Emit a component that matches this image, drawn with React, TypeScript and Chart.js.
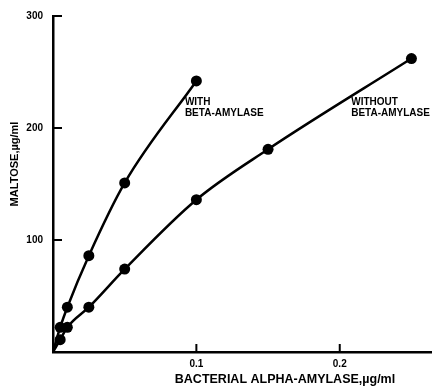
import React, { useEffect, useRef } from "react";
import { Chart, registerables } from "chart.js";

Chart.register(...registerables);

const withX = [0, 0.005, 0.01, 0.025, 0.05, 0.1];
const withY = [0, 22, 40, 86, 151, 242];
const withoutX = [0, 0.005, 0.01, 0.025, 0.05, 0.1, 0.15, 0.25];
const withoutY = [0, 11, 22, 40, 74, 136, 181, 262];
const xTicks = [0.1, 0.2];
const yTicks = [100, 200, 300];
const xTitle = "BACTERIAL ALPHA-AMYLASE,\u00b5g/ml";
const yTitle = "MALTOSE,\u00b5g/ml";
const labelWith = ["WITH", "BETA-AMYLASE"];
const labelWithout = ["WITHOUT", "BETA-AMYLASE"];

const FONT = "'Liberation Sans', Arial, sans-serif";

const toPts = (xs: number[], ys: number[]) => xs.map((x, i) => ({ x, y: ys[i] }));
const radii = (xs: number[]) => xs.map((x) => (x === 0 ? 0 : 5.5));

export default function App() {
  const ref = useRef<HTMLCanvasElement | null>(null);
  useEffect(() => {
    document.body.style.margin = "0";
    const decor = {
      id: "decor",
      afterDraw(chart: any) {
        const ctx = chart.ctx;
        const xs = chart.scales.x;
        const ys = chart.scales.y;
        ctx.save();
        ctx.strokeStyle = "#000";
        ctx.lineWidth = 2;
        // inward ticks
        yTicks.forEach((v) => {
          const py = ys.getPixelForValue(v);
          ctx.beginPath();
          ctx.moveTo(xs.left, py);
          ctx.lineTo(xs.left + 9, py);
          ctx.stroke();
        });
        xTicks.forEach((v) => {
          const px = xs.getPixelForValue(v);
          ctx.beginPath();
          ctx.moveTo(px, ys.bottom);
          ctx.lineTo(px, ys.bottom - 8);
          ctx.stroke();
        });
        ctx.fillStyle = "#000";
        // axis titles
        ctx.textAlign = "center";
        ctx.textBaseline = "middle";
        ctx.font = `bold 12.5px ${FONT}`;
        ctx.fillText(xTitle, 285, 380);
        ctx.font = `bold 11px ${FONT}`;
        ctx.save();
        ctx.translate(15, 164);
        ctx.rotate(-Math.PI / 2);
        ctx.fillText(yTitle, 0, 0);
        ctx.restore();
        // annotations
        ctx.font = `bold 10px ${FONT}`;
        ctx.textAlign = "left";
        ctx.textBaseline = "middle";
        const ay = ys.getPixelForValue(223);
        const ax = xs.getPixelForValue(0.092);
        labelWith.forEach((t, i) => ctx.fillText(t, ax, ay + i * 11));
        const bx = xs.getPixelForValue(0.208);
        labelWithout.forEach((t, i) => ctx.fillText(t, bx, ay + i * 11));
        ctx.restore();
      },
    };
    const ds = (xs: number[], ysv: number[]) => ({
      data: toPts(xs, ysv),
      borderColor: "#000",
      backgroundColor: "#000",
      borderWidth: 2.5,
      pointRadius: radii(xs),
      pointBorderWidth: 0,
      cubicInterpolationMode: "monotone" as const,
      fill: false,
      showLine: true,
    });
    const chart = new Chart(ref.current!, {
      type: "scatter",
      data: {
        datasets: [ds(withX, withY), ds(withoutX, withoutY)],
      },
      options: {
        animation: false,
        responsive: false,
        layout: { padding: { top: 15, right: 4, left: 0, bottom: 0 } },
        plugins: { legend: { display: false }, tooltip: { enabled: false } },
        scales: {
          x: {
            type: "linear",
            min: 0,
            max: 0.264,
            afterBuildTicks: (s: any) => {
              s.ticks = xTicks.map((v) => ({ value: v }));
            },
            afterFit: (s: any) => {
              s.height = 36;
            },
            grid: { display: false, drawTicks: false },
            border: { color: "#000", width: 2.5 },
            ticks: {
              color: "#000",
              font: { family: FONT, weight: "bold", size: 10 },
              padding: 6,
              maxRotation: 0,
              callback: (v: any) => String(v),
            },
          },
          y: {
            type: "linear",
            min: 0,
            max: 300,
            afterBuildTicks: (s: any) => {
              s.ticks = yTicks.map((v) => ({ value: v }));
            },
            afterFit: (s: any) => {
              s.width = 53;
            },
            grid: { display: false, drawTicks: false },
            border: { color: "#000", width: 2.5 },
            ticks: {
              color: "#000",
              font: { family: FONT, weight: "bold", size: 10 },
              padding: 10,
            },
          },
        },
      },
      plugins: [decor],
    } as any);
    return () => chart.destroy();
  }, []);
  return <canvas ref={ref} width={437} height={388} style={{ display: "block" }} />;
}
